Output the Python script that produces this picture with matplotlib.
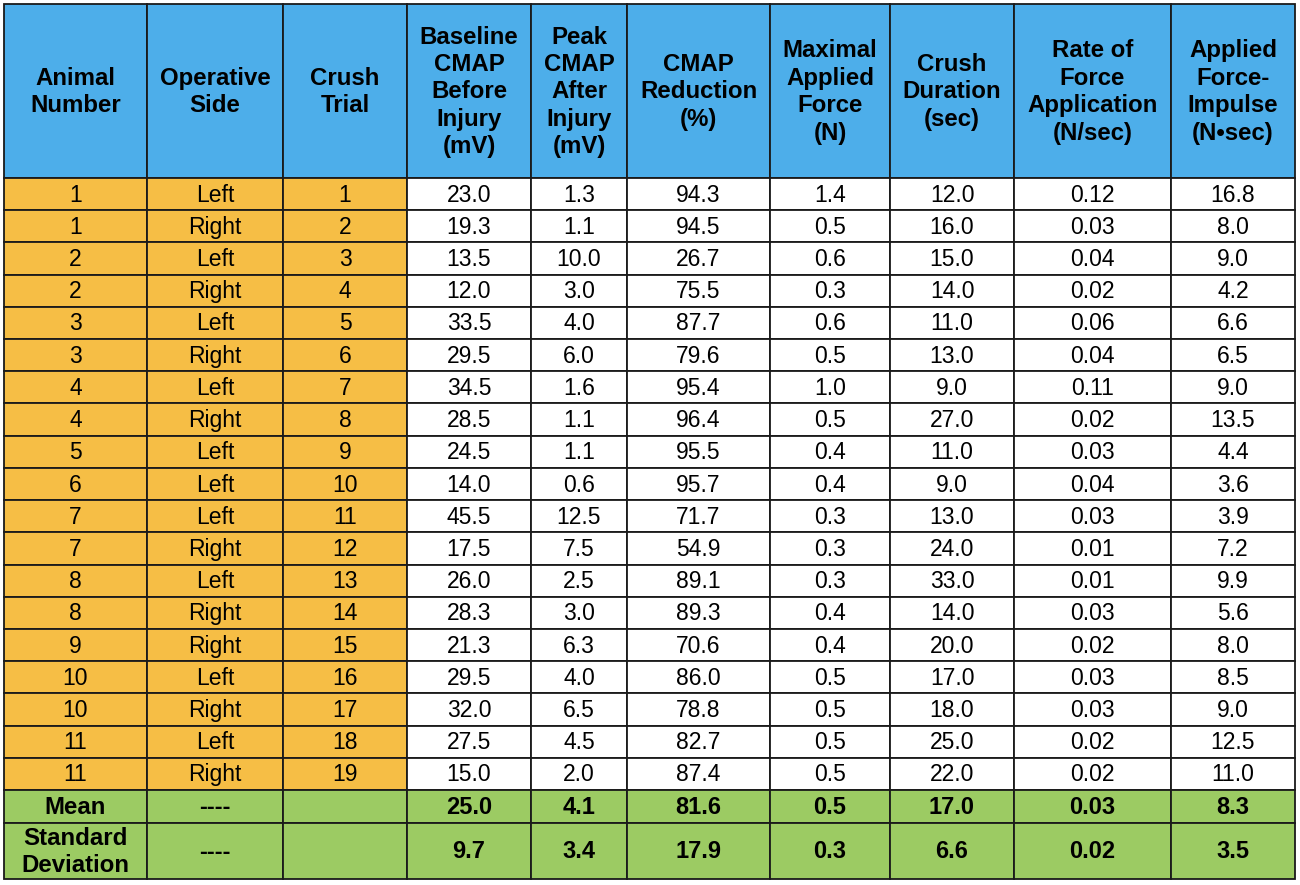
import matplotlib.pyplot as plt
from matplotlib.patches import Rectangle

plt.rcParams["font.family"] = ["Liberation Sans", "DejaVu Sans"]

# ===============================
# Table data
# ===============================
headers = [
    "Animal\nNumber",
    "Operative\nSide",
    "Crush\nTrial",
    "Baseline\nCMAP\nBefore\nInjury\n(mV)",
    "Peak\nCMAP\nAfter\nInjury\n(mV)",
    "CMAP\nReduction\n(%)",
    "Maximal\nApplied\nForce\n(N)",
    "Crush\nDuration\n(sec)",
    "Rate of\nForce\nApplication\n(N/sec)",
    "Applied\nForce-\nImpulse\n(N\u2022sec)",
]

animal = [1, 1, 2, 2, 3, 3, 4, 4, 5, 6, 7, 7, 8, 8, 9, 10, 10, 11, 11]
side = ["Left", "Right", "Left", "Right", "Left", "Right", "Left", "Right",
        "Left", "Left", "Left", "Right", "Left", "Right", "Right", "Left",
        "Right", "Left", "Right"]
trial = list(range(1, 20))
baseline = [23.0, 19.3, 13.5, 12.0, 33.5, 29.5, 34.5, 28.5, 24.5, 14.0,
            45.5, 17.5, 26.0, 28.3, 21.3, 29.5, 32.0, 27.5, 15.0]
peak = [1.3, 1.1, 10.0, 3.0, 4.0, 6.0, 1.6, 1.1, 1.1, 0.6,
        12.5, 7.5, 2.5, 3.0, 6.3, 4.0, 6.5, 4.5, 2.0]
reduction = [94.3, 94.5, 26.7, 75.5, 87.7, 79.6, 95.4, 96.4, 95.5, 95.7,
             71.7, 54.9, 89.1, 89.3, 70.6, 86.0, 78.8, 82.7, 87.4]
force = [1.4, 0.5, 0.6, 0.3, 0.6, 0.5, 1.0, 0.5, 0.4, 0.4,
         0.3, 0.3, 0.3, 0.4, 0.4, 0.5, 0.5, 0.5, 0.5]
duration = [12.0, 16.0, 15.0, 14.0, 11.0, 13.0, 9.0, 27.0, 11.0, 9.0,
            13.0, 24.0, 33.0, 14.0, 20.0, 17.0, 18.0, 25.0, 22.0]
rate = [0.12, 0.03, 0.04, 0.02, 0.06, 0.04, 0.11, 0.02, 0.03, 0.04,
        0.03, 0.01, 0.01, 0.03, 0.02, 0.03, 0.03, 0.02, 0.02]
impulse = [16.8, 8.0, 9.0, 4.2, 6.6, 6.5, 9.0, 13.5, 4.4, 3.6,
           3.9, 7.2, 9.9, 5.6, 8.0, 8.5, 9.0, 12.5, 11.0]

mean_vals = [25.0, 4.1, 81.6, 0.5, 17.0, 0.03, 8.3]
sd_vals = [9.7, 3.4, 17.9, 0.3, 6.6, 0.02, 3.5]
summary_labels = ["Mean", "Standard\nDeviation"]

# ===============================
# Layout (pixels)
# ===============================
col_edges = [4, 147, 283, 407, 531, 627, 770, 890, 1014, 1171, 1295]
header_top, header_bottom = 4, 178
row_h = (790 - 178) / 19
mean_bottom, sd_bottom = 823, 879

BLUE = "#4daeea"
ORANGE = "#f6be45"
GREEN = "#9ccb63"
LINE = "#1a1a1a"

fig = plt.figure(figsize=(13, 8.85), dpi=100)
ax = fig.add_axes([0, 0, 1, 1])
ax.set_xlim(0, 1300)
ax.set_ylim(885, 0)
ax.axis("off")


def cell(c, y0, y1, color, text, bold=False, size=16.5, ls=1.2):
    x0, x1 = col_edges[c], col_edges[c + 1]
    ax.add_patch(Rectangle((x0, y0), x1 - x0, y1 - y0, facecolor=color,
                           edgecolor=LINE, linewidth=1.3))
    if text:
        ax.text((x0 + x1) / 2, (y0 + y1) / 2 + 1, text, ha="center",
                va="center", fontsize=size, linespacing=ls,
                fontweight="bold" if bold else "normal", color="black")


# header
for c, h in enumerate(headers):
    cell(c, header_top, header_bottom, BLUE, h, bold=True, size=17.3, ls=1.25)

# data rows
numeric = [baseline, peak, reduction, force, duration, rate, impulse]
fmts = ["{:.1f}", "{:.1f}", "{:.1f}", "{:.1f}", "{:.1f}", "{:.2f}", "{:.1f}"]
for i in range(len(animal)):
    y0 = header_bottom + i * row_h
    y1 = y0 + row_h
    cell(0, y0, y1, ORANGE, str(animal[i]))
    cell(1, y0, y1, ORANGE, side[i])
    cell(2, y0, y1, ORANGE, str(trial[i]))
    for j, (col, f) in enumerate(zip(numeric, fmts)):
        cell(3 + j, y0, y1, "white", f.format(col[i]))

# summary rows
y_mean0 = header_bottom + len(animal) * row_h
for label, vals, y0, y1 in [(summary_labels[0], mean_vals, y_mean0, mean_bottom),
                            (summary_labels[1], sd_vals, mean_bottom, sd_bottom)]:
    cell(0, y0, y1, GREEN, label, bold=True, size=17.3, ls=1.25)
    cell(1, y0, y1, GREEN, "----", bold=True, size=17)
    cell(2, y0, y1, GREEN, "")
    for j, f in enumerate(fmts):
        cell(3 + j, y0, y1, GREEN, f.format(vals[j]), bold=True, size=17)

fig.savefig("out.png", dpi=100)
